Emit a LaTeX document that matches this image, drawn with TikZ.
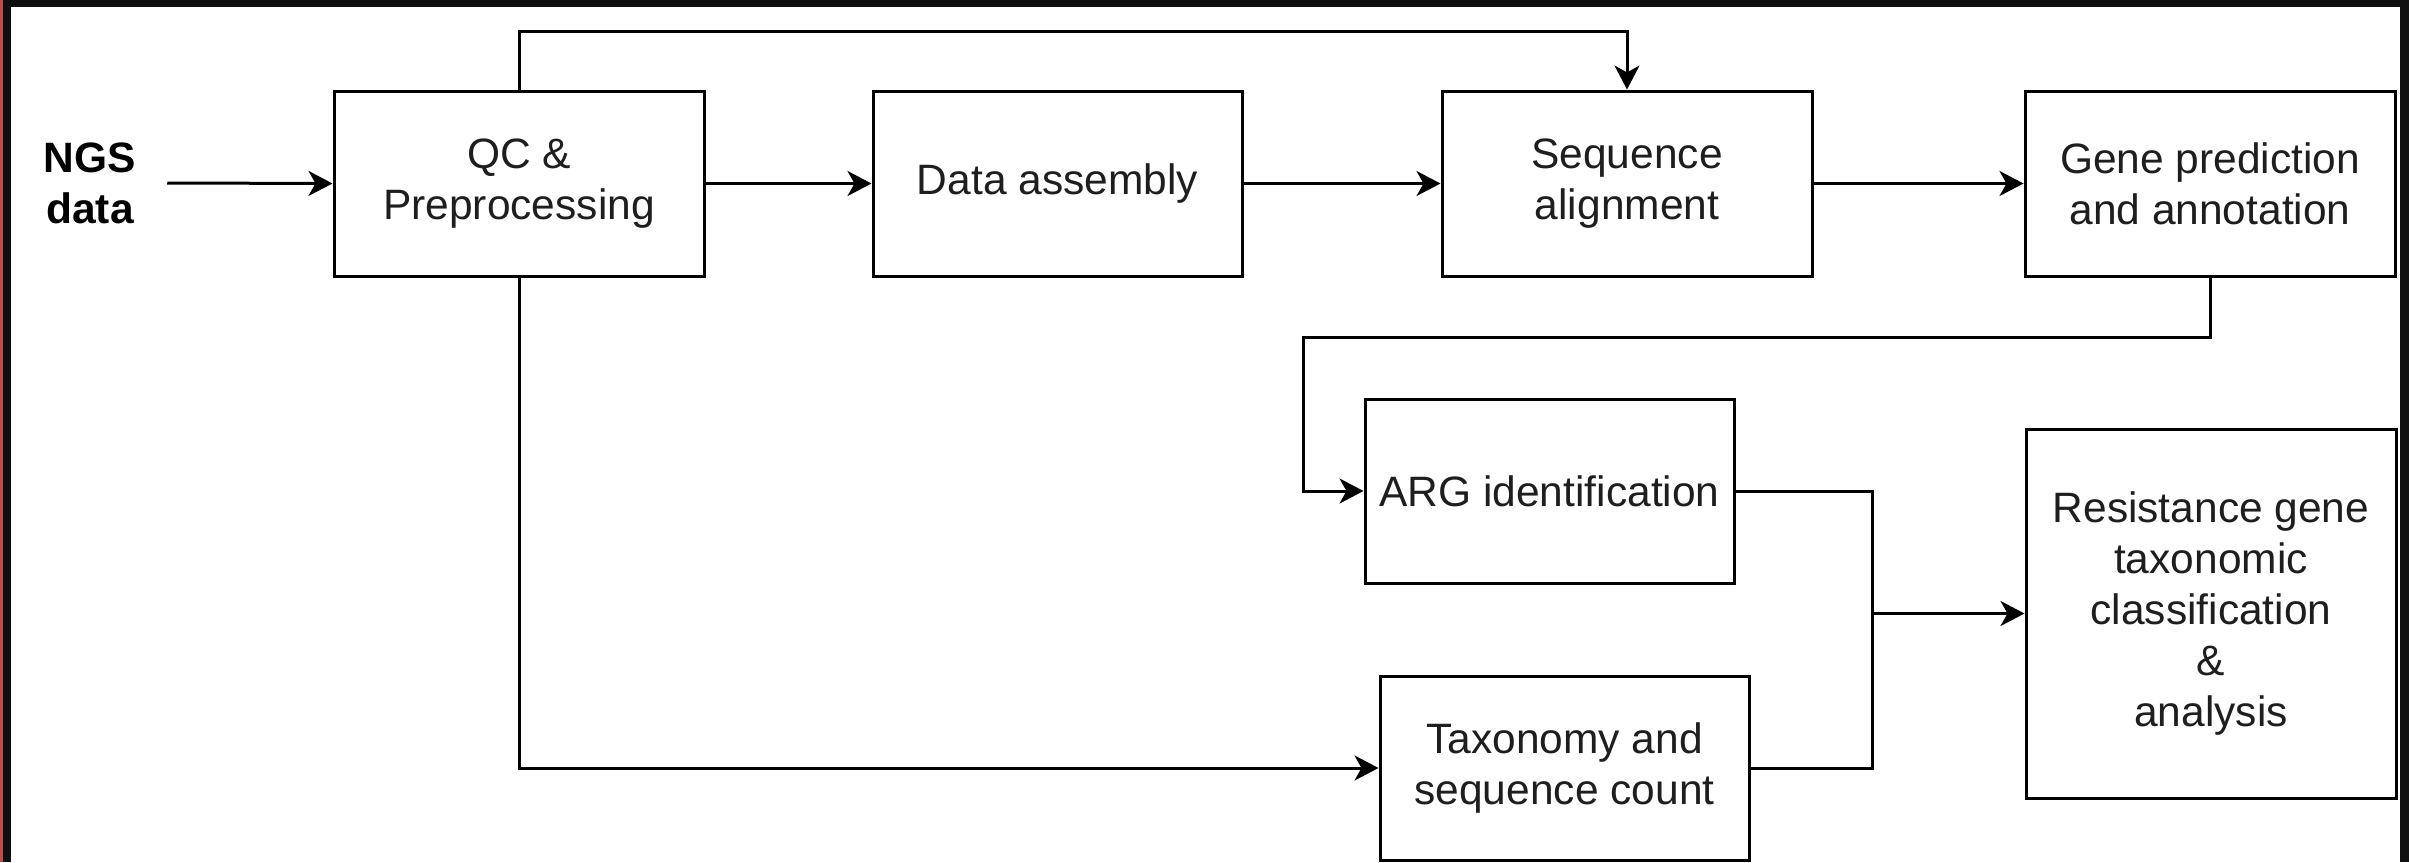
\documentclass[tikz,border=0pt]{standalone}
\usepackage{fontspec}
\setmainfont{Liberation Sans}
\usetikzlibrary{arrows.meta}
\definecolor{framec}{RGB}{15,15,15}
\definecolor{redline}{RGB}{190,75,72}
\definecolor{txt}{RGB}{30,30,30}
\begin{document}
\begin{tikzpicture}[x=1pt,y=-1pt,
  box/.style={draw=black,line width=3pt,fill=white,inner sep=0pt,align=center,
    text=txt,font=\fontsize{42.5}{51}\selectfont},
  conn/.style={line width=3pt,draw=black},
  arr/.style={conn,-{Stealth[length=24pt,width=25pt,inset=7pt]}}]
\useasboundingbox (0,0) rectangle (2409,862);
% frame
\fill[framec] (0,0) rectangle (2409,862);
\fill[redline] (0,0) rectangle (3,862);
\fill[white] (11,7) rectangle (2400,862);
% nodes
\node[inner ysep=0pt,inner xsep=31pt,align=center,text=black,
  font=\fontsize{42.5}{51}\selectfont\bfseries] (ngs) at (90,183) {NGS\\data};
\node[box,minimum width=370pt,minimum height=185pt] (qc) at (519,183.5) {QC \&\\Preprocessing};
\node[box,minimum width=369pt,minimum height=185pt] (da) at (1057.5,183.5) {Data assembly};
\node[box,minimum width=370pt,minimum height=185pt] (sa) at (1627,183.5) {Sequence\\alignment};
\node[box,minimum width=370pt,minimum height=185pt] (gp) at (2210,183.5) {Gene prediction\\and annotation};
\node[box,minimum width=369pt,minimum height=184pt] (arg) at (1549.5,491) {ARG identification};
\node[box,minimum width=369pt,minimum height=184pt] (tax) at (1564.5,768) {Taxonomy and\\sequence count};
\node[box,minimum width=370pt,minimum height=369pt] (res) at (2211,613.5) {Resistance gene\\taxonomic\\classification\\\&\\analysis};
% helper coordinates
\coordinate (topy) at (0,31);
\coordinate (c1) at (1303,337);
\coordinate (j) at (1872,613.5);
% connectors
\draw[arr] (ngs.east) -- (qc.west);
\draw[arr] (qc.east) -- (da.west);
\draw[arr] (da.east) -- (sa.west);
\draw[arr] (sa.east) -- (gp.west);
\draw[arr] (qc.north) -- (qc.north |- topy) -| (sa.north);
\draw[arr] (qc.south) |- (tax.west);
\draw[arr] (gp.south) |- (c1) |- (arg.west);
\draw[conn] (arg.east) -| (j);
\draw[conn] (tax.east) -| (j);
\draw[arr] (j) -- (res.west);
\end{tikzpicture}
\end{document}
